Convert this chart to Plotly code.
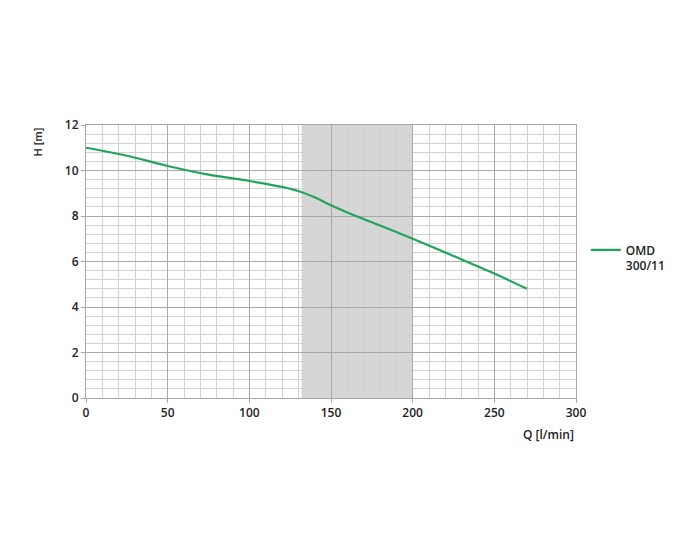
import plotly.graph_objects as go

# pump curve OMD 300/11
flow = [0, 25, 50, 75, 100, 120, 130, 140, 150, 160, 180, 200, 225, 250, 270]
head = [11.0, 10.65, 10.2, 9.82, 9.54, 9.28, 9.1, 8.82, 8.47, 8.15, 7.58, 7.0, 6.24, 5.47, 4.8]
series_name = "OMD<br>300/11"

# recommended working range (shaded band)
band_start = 132
band_end = 200

x_range = [0, 300]
y_range = [0, 12]

font_family = "Open Sans, sans-serif"
text_color = "#222222"

fig = go.Figure()

fig.add_trace(go.Scatter(
    x=flow, y=head, mode="lines", name=series_name,
    line=dict(color="#1fa55a", width=2.2, shape="spline", smoothing=0.8),
))

fig.add_vrect(x0=band_start, x1=band_end, fillcolor="#d6d6d6", opacity=1,
              line_width=0, layer="below")

tick_font = dict(size=12, color=text_color, family=font_family, weight=600)

fig.update_xaxes(
    range=x_range, dtick=50, showgrid=True, gridcolor="#a8a8a8", gridwidth=1,
    minor=dict(dtick=10, showgrid=True, gridcolor="#d2d2d2", gridwidth=1),
    showline=True, linecolor="#a8a8a8", mirror=True,
    ticks="outside", ticklen=4, tickcolor="#a8a8a8",
    zeroline=False, fixedrange=True, automargin=False,
    tickfont=tick_font,
)
fig.update_yaxes(
    range=y_range, dtick=2, showgrid=True, gridcolor="#a8a8a8", gridwidth=1,
    minor=dict(dtick=0.4, showgrid=True, gridcolor="#d2d2d2", gridwidth=1),
    showline=True, linecolor="#a8a8a8", mirror=True,
    ticks="outside", ticklen=4, tickcolor="#a8a8a8",
    zeroline=False, fixedrange=True, automargin=False,
    tickfont=tick_font,
)

# axis titles placed like the reference: H at top-left, Q below right end
fig.add_annotation(text="H [m]", xref="paper", yref="paper", x=-0.098, y=1.0,
                   xanchor="center", yanchor="top", textangle=-90, showarrow=False,
                   font=dict(size=11, color=text_color, family=font_family, weight=600))
fig.add_annotation(text="Q [l/min]", xref="paper", yref="paper", x=1.0, y=-0.095,
                   xanchor="right", yanchor="top", showarrow=False,
                   font=dict(size=12, color=text_color, family=font_family, weight=600))

# page body adds an 8px offset, so margins are trimmed to land the plot where the reference has it
fig.update_layout(
    width=687, height=550,
    margin=dict(l=78, r=119, t=117, b=160),
    plot_bgcolor="white", paper_bgcolor="white",
    showlegend=True,
    legend=dict(x=1.02, y=0.595, xanchor="left", yanchor="top",
                font=dict(size=12, color=text_color, family=font_family, weight=600),
                itemwidth=30, bgcolor="rgba(0,0,0,0)", valign="top",
                tracegroupgap=0),
)

fig.write_html("out.html")
